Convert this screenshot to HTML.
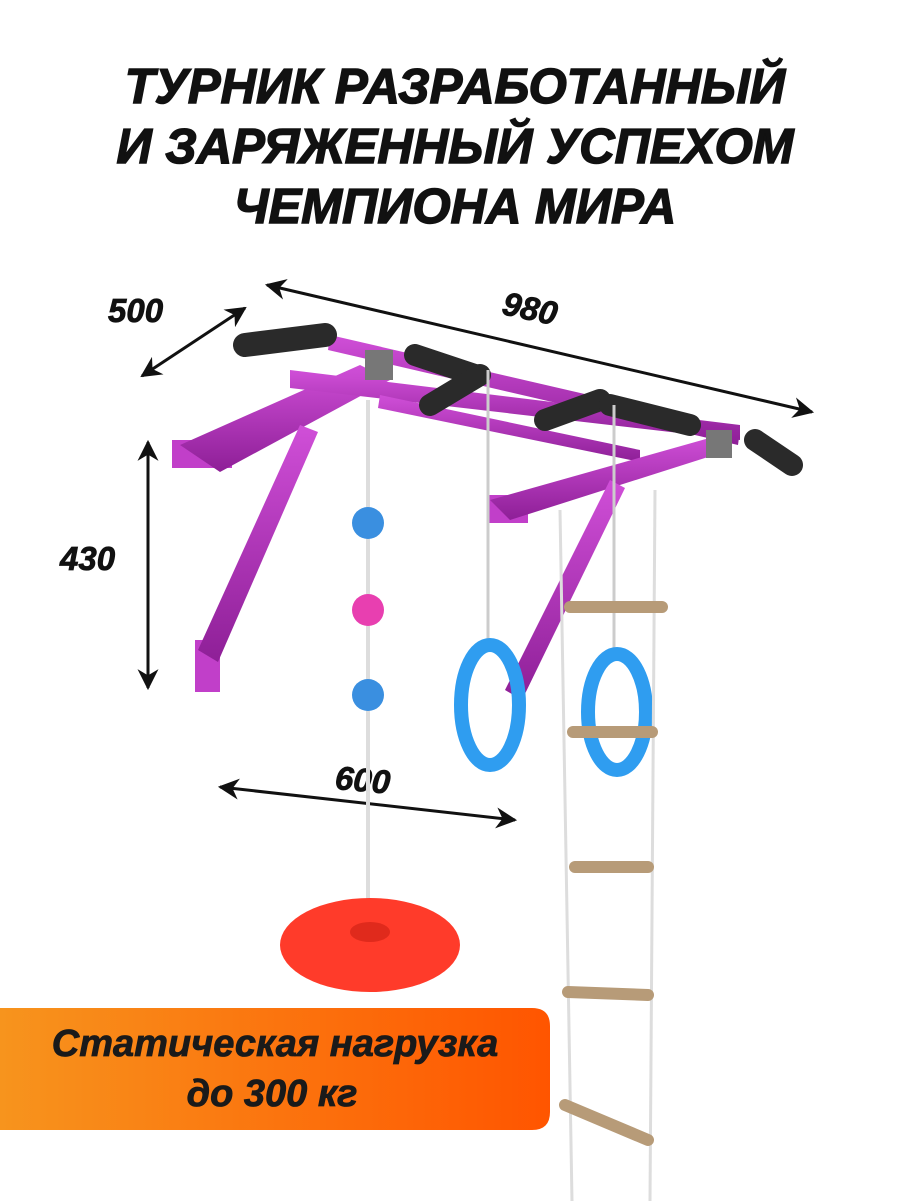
<!DOCTYPE html>
<html><head><meta charset="utf-8"><style>
html,body{margin:0;padding:0;background:#fff;}
svg{display:block}
text{font-family:"Liberation Sans",sans-serif;font-weight:bold;font-style:italic}
</style></head><body>
<svg width="901" height="1201" viewBox="0 0 901 1201" xmlns="http://www.w3.org/2000/svg">
<defs>
<linearGradient id="og" x1="0" x2="1" y1="0" y2="0"><stop offset="0" stop-color="#f7941d"/><stop offset="1" stop-color="#ff5500"/></linearGradient>
<linearGradient id="pu" x1="0" x2="0" y1="0" y2="1"><stop offset="0" stop-color="#d04fd8"/><stop offset="1" stop-color="#8e1f97"/></linearGradient>
<marker id="ah" viewBox="0 0 10 10" refX="9" refY="5" markerWidth="7" markerHeight="7" orient="auto-start-reverse"><path d="M0,0 L10,5 L0,10 L3,5z" fill="#111"/></marker>
</defs>
<rect width="901" height="1201" fill="#fff"/>
<g text-anchor="middle" font-size="49" fill="#111" stroke="#111" stroke-width="1.5">
<text x="455" y="103">ТУРНИК РАЗРАБОТАННЫЙ</text>
<text x="455" y="163">И ЗАРЯЖЕННЫЙ УСПЕХОМ</text>
<text x="455" y="223">ЧЕМПИОНА МИРА</text>
</g>
<g stroke="#111" stroke-width="3" fill="none">
<line x1="142" y1="376" x2="245" y2="308" marker-start="url(#ah)" marker-end="url(#ah)"/>
<line x1="267" y1="285" x2="812" y2="412" marker-start="url(#ah)" marker-end="url(#ah)"/>
<line x1="148" y1="442" x2="148" y2="688" marker-start="url(#ah)" marker-end="url(#ah)"/>
<line x1="220" y1="787" x2="515" y2="820" marker-start="url(#ah)" marker-end="url(#ah)"/>
</g>
<g font-size="33" fill="#111" stroke="#111" stroke-width="0.8">
<text x="108" y="322">500</text>
<text x="502" y="322" transform="rotate(12 540 312)">980</text>
<text x="60" y="570">430</text>
<text x="335" y="792" transform="rotate(5 370 782)">600</text>
</g>
<rect x="172" y="440" width="60" height="28" fill="#c13fc9"/>
<rect x="195" y="640" width="25" height="52" fill="#c13fc9"/>
<rect x="488" y="495" width="40" height="28" fill="#c13fc9"/>
<g fill="url(#pu)">
<polygon points="180,445 360,365 390,380 220,472"/>
<polygon points="198,650 300,425 318,432 218,662"/>
<polygon points="290,370 740,425 740,440 290,388"/>
<polygon points="330,335 740,430 738,445 328,350"/>
<polygon points="380,395 640,450 640,462 378,408"/>
<polygon points="490,500 720,435 730,450 510,520"/>
<polygon points="505,690 610,480 625,488 522,700"/>
</g>
<rect x="365" y="350" width="28" height="30" fill="#777"/>
<rect x="706" y="430" width="26" height="28" fill="#777"/>
<g stroke="#2a2a2a" stroke-linecap="round" fill="none">
<line x1="245" y1="345" x2="325" y2="335" stroke-width="24"/>
<line x1="415" y1="355" x2="475" y2="375" stroke-width="22"/>
<line x1="430" y1="405" x2="480" y2="375" stroke-width="22"/>
<line x1="545" y1="420" x2="600" y2="400" stroke-width="22"/>
<line x1="610" y1="405" x2="690" y2="425" stroke-width="22"/>
<line x1="755" y1="440" x2="792" y2="465" stroke-width="22"/>
</g>
<line x1="368" y1="400" x2="368" y2="930" stroke="#ddd" stroke-width="4"/>
<circle cx="368" cy="523" r="16" fill="#3a8fe0"/>
<circle cx="368" cy="610" r="16" fill="#e83fb0"/>
<circle cx="368" cy="695" r="16" fill="#3a8fe0"/>
<ellipse cx="370" cy="945" rx="90" ry="47" fill="#ff3b2a"/>
<ellipse cx="370" cy="932" rx="20" ry="10" fill="#e02a1c"/>
<line x1="488" y1="370" x2="488" y2="645" stroke="#ccc" stroke-width="3"/>
<line x1="614" y1="405" x2="614" y2="650" stroke="#ccc" stroke-width="3"/>
<ellipse cx="490" cy="705" rx="29" ry="60" fill="none" stroke="#2f9df0" stroke-width="14"/>
<ellipse cx="617" cy="712" rx="29" ry="58" fill="none" stroke="#2f9df0" stroke-width="14"/>
<g stroke="#ddd" stroke-width="3">
<line x1="560" y1="510" x2="572" y2="1201"/>
<line x1="655" y1="490" x2="650" y2="1201"/>
</g>
<g stroke="#b79b78" stroke-width="12" stroke-linecap="round">
<line x1="570" y1="607" x2="662" y2="607"/>
<line x1="573" y1="732" x2="652" y2="732"/>
<line x1="575" y1="867" x2="648" y2="867"/>
<line x1="568" y1="992" x2="648" y2="995"/>
<line x1="565" y1="1105" x2="648" y2="1140"/>
</g>
<path d="M0,1008 H532 Q550,1008 550,1026 V1112 Q550,1130 532,1130 H0 Z" fill="url(#og)"/>
<g font-size="38" fill="#1a1a1a" text-anchor="middle" stroke="#1a1a1a" stroke-width="0.8">
<text x="275" y="1056">Статическая нагрузка</text>
<text x="272" y="1106">до 300 кг</text>
</g>
</svg>
</body></html>
